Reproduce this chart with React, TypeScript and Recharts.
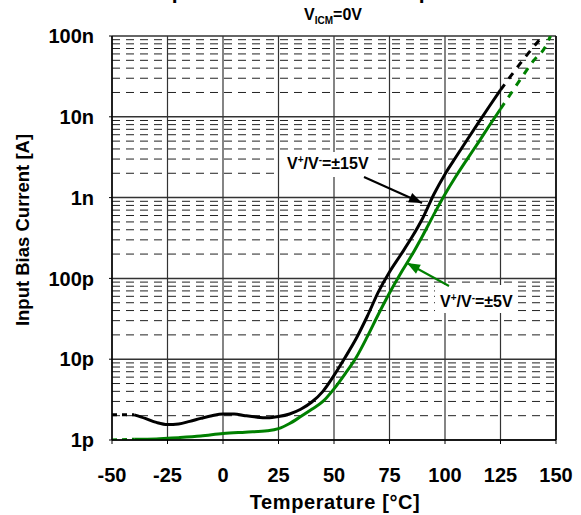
import React, { useEffect } from "react";
import {
  LineChart,
  Line,
  XAxis,
  YAxis,
  CartesianGrid,
  ReferenceLine,
} from "recharts";

// ±15V supply
const temp15 = [-40, -35, -30, -25, -20, -15, -10, -5, 0, 5, 10, 15, 20, 25, 30, 35, 40, 45, 50, 55, 60, 65, 70, 75, 80, 85, 90, 95, 100, 105, 110, 115, 120, 125];
const bias15 = [
  2.05e-12, 1.85e-12, 1.65e-12, 1.55e-12, 1.58e-12, 1.7e-12, 1.85e-12, 2.0e-12, 2.1e-12, 2.1e-12,
  2.0e-12, 1.92e-12, 1.88e-12, 1.95e-12, 2.1e-12, 2.4e-12, 2.95e-12, 4.0e-12, 6.3e-12, 1.05e-11,
  1.8e-11, 3.4e-11, 6.8e-11, 1.2e-10, 1.95e-10, 3.2e-10, 5.6e-10, 1.1e-9, 1.95e-9, 3.2e-9,
  5.2e-9, 8.4e-9, 1.35e-8, 2.15e-8,
];
const temp15Low = [-50, -40];
const bias15Low = [2.05e-12, 2.05e-12];
const temp15High = [125, 130, 135, 140, 144];
const bias15High = [2.15e-8, 3.3e-8, 5.0e-8, 7.4e-8, 1e-7];

// ±5V supply
const temp5 = [-40, -30, -25, -20, -10, 0, 10, 20, 25, 30, 35, 40, 45, 50, 55, 60, 65, 70, 75, 80, 85, 90, 95, 100, 105, 110, 115, 120, 125];
const bias5 = [
  1.02e-12, 1.03e-12, 1.05e-12, 1.07e-12, 1.12e-12, 1.2e-12, 1.25e-12, 1.3e-12, 1.38e-12, 1.6e-12,
  1.95e-12, 2.4e-12, 3.0e-12, 4.3e-12, 6.6e-12, 1.05e-11, 1.9e-11, 3.6e-11, 6.6e-11, 1.15e-10,
  1.93e-10, 3.4e-10, 6.2e-10, 1.1e-9, 1.85e-9, 3.0e-9, 4.8e-9, 7.8e-9, 1.25e-8,
];
const temp5Low = [-50, -40];
const bias5Low = [1e-12, 1.02e-12];
const temp5High = [125, 130, 135, 140, 145, 147.5];
const bias5High = [1.25e-8, 2.0e-8, 3.2e-8, 5.0e-8, 7.2e-8, 1e-7];

const xTicks = [-50, -25, 0, 25, 50, 75, 100, 125, 150];
const yTicks = [1e-12, 1e-11, 1e-10, 1e-9, 1e-8, 1e-7];
const yLabels = ["1p", "10p", "100p", "1n", "10n", "100n"];
const minorTicks = yTicks.slice(0, -1).flatMap((d) => [2, 3, 4, 5, 6, 7, 8, 9].map((k) => k * d));

const toRows = (xs: number[], ys: number[]) => xs.map((t, i) => ({ t, i: ys[i] }));

const FONT = "'Liberation Sans', Arial, sans-serif";
const GREEN = "#008000";

function arrowHead(x1: number, y1: number, x2: number, y2: number, len = 13, half = 5) {
  const dx = x2 - x1;
  const dy = y2 - y1;
  const d = Math.hypot(dx, dy);
  const ux = dx / d;
  const uy = dy / d;
  const bx = x2 - ux * len;
  const by = y2 - uy * len;
  return `${x2},${y2} ${bx - uy * half},${by + ux * half} ${bx + uy * half},${by - ux * half}`;
}

function Arrow({ x1, y1, x2, y2, color }: { x1: number; y1: number; x2: number; y2: number; color: string }) {
  return (
    <g>
      <line x1={x1} y1={y1} x2={x2} y2={y2} stroke={color} strokeWidth={2} />
      <polygon points={arrowHead(x1, y1, x2, y2)} fill={color} />
    </g>
  );
}

export default function App() {
  useEffect(() => {
    document.body.style.margin = "0";
  }, []);

  const tickStyle = { fill: "#000", fontSize: 20, fontWeight: 700, fontFamily: FONT };

  return (
    <div style={{ position: "relative", width: 581, height: 515, background: "#fff", overflow: "hidden" }}>
      <LineChart width={581} height={515} margin={{ top: 36, right: 25, bottom: 0, left: 0 }}>
        <CartesianGrid horizontal={false} stroke="#333" strokeWidth={1.2} />
        <XAxis
          type="number"
          dataKey="t"
          domain={[-50, 150]}
          ticks={xTicks}
          allowDataOverflow
          height={75}
          tickSize={4}
          tickMargin={24}
          tickLine={{ stroke: "#000" }}
          axisLine={{ stroke: "#000", strokeWidth: 1.5 }}
          tick={tickStyle}
        />
        <YAxis
          type="number"
          scale="log"
          domain={[1e-12, 1e-7]}
          ticks={yTicks}
          allowDataOverflow
          width={112}
          tickSize={3}
          tickMargin={15}
          tickFormatter={(_v: number, i: number) => yLabels[i]}
          tickLine={{ stroke: "#000" }}
          axisLine={{ stroke: "#000", strokeWidth: 1.5 }}
          tick={tickStyle}
        />
        {minorTicks.map((v) => (
          <ReferenceLine key={`m${v}`} y={v} stroke="#222" strokeWidth={1} strokeDasharray="8 6" />
        ))}
        {yTicks.map((v) => (
          <ReferenceLine key={`d${v}`} y={v} stroke="#333" strokeWidth={1.5} />
        ))}
        <ReferenceLine x={150} stroke="#000" strokeWidth={1.5} />

        <Line data={toRows(temp15Low, bias15Low)} dataKey="i" type="linear" stroke="#000" strokeWidth={3} strokeDasharray="5 5" dot={false} isAnimationActive={false} />
        <Line data={toRows(temp15, bias15)} dataKey="i" type="monotone" stroke="#000" strokeWidth={3} dot={false} isAnimationActive={false} />
        <Line data={toRows(temp15High, bias15High)} dataKey="i" type="monotone" stroke="#000" strokeWidth={3} strokeDasharray="7 7" dot={false} isAnimationActive={false} />
        <Line data={toRows(temp5Low, bias5Low)} dataKey="i" type="linear" stroke={GREEN} strokeWidth={3} strokeDasharray="5 5" dot={false} isAnimationActive={false} />
        <Line data={toRows(temp5, bias5)} dataKey="i" type="monotone" stroke={GREEN} strokeWidth={3} dot={false} isAnimationActive={false} />
        <Line data={toRows(temp5High, bias5High)} dataKey="i" type="monotone" stroke={GREEN} strokeWidth={3} strokeDasharray="7 7" dot={false} isAnimationActive={false} />
      </LineChart>

      <svg
        width={581}
        height={515}
        style={{ position: "absolute", left: 0, top: 0, pointerEvents: "none" }}
        fontFamily={FONT}
        fontWeight={700}
      >
        <text x={328} y={-1} fontSize={21} textAnchor="middle" fill="#000">
          Input Bias Current vs. Temperature
        </text>
        <text x={333} y={20} fontSize={16} textAnchor="middle" fill="#000">
          V<tspan fontSize={10} dy={4}>ICM</tspan>
          <tspan dy={-4}>=0V</tspan>
        </text>

        <text x={335} y={509} fontSize={20} letterSpacing={0.6} textAnchor="middle" fill="#000">
          Temperature [°C]
        </text>
        <text x={29} y={230} fontSize={18.5} textAnchor="middle" fill="#000" transform="rotate(-90 29 230)">
          Input Bias Current [A]
        </text>

        <rect x={280} y={152} width={93} height={25} fill="#fff" />
        <text x={287} y={169} fontSize={16} fill="#000">
          V<tspan fontSize={10} dy={-6}>+</tspan>
          <tspan dy={6}>/V</tspan>
          <tspan fontSize={10} dy={-6}>-</tspan>
          <tspan dy={6}>=±15V</tspan>
        </text>
        <Arrow x1={364} y1={177} x2={422} y2={203} color="#000" />

        <rect x={435} y={285} width={82} height={28} fill="#fff" />
        <text x={440} y={307} fontSize={16} fill="#000">
          V<tspan fontSize={10} dy={-6}>+</tspan>
          <tspan dy={6}>/V</tspan>
          <tspan fontSize={10} dy={-6}>-</tspan>
          <tspan dy={6}>=±5V</tspan>
        </text>
        <Arrow x1={449} y1={286} x2={407} y2={263} color={GREEN} />
      </svg>
    </div>
  );
}
